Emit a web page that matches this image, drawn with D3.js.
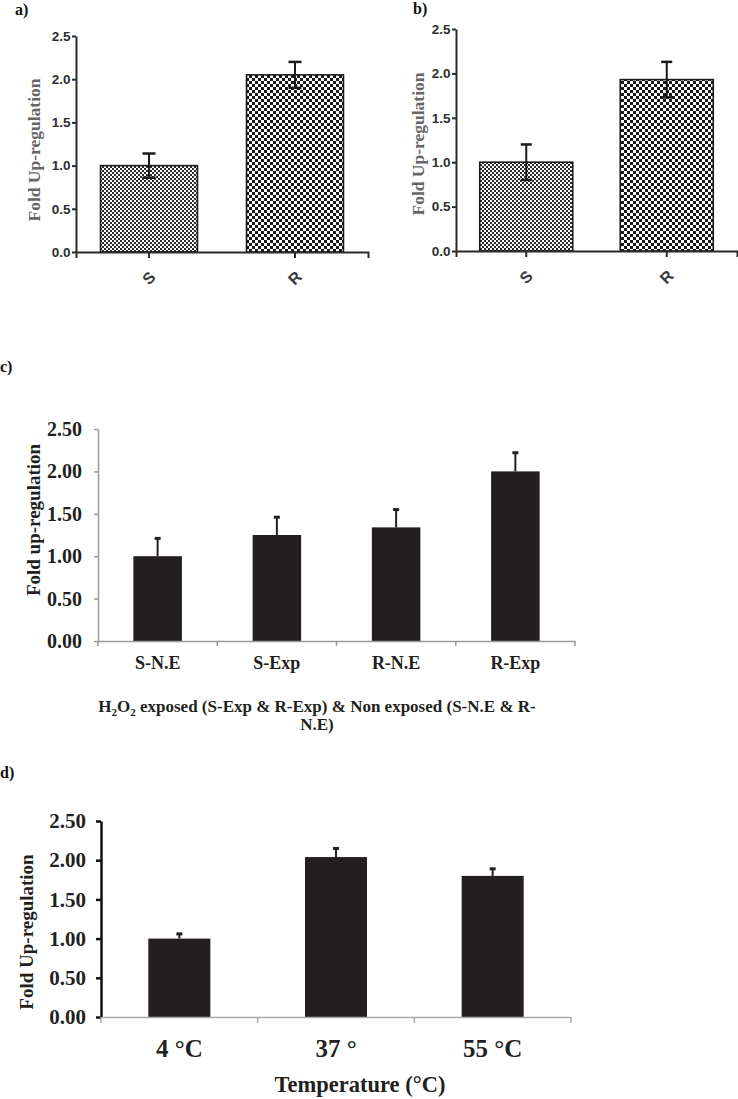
<!DOCTYPE html>
<html><head><meta charset="utf-8">
<script src="https://cdn.jsdelivr.net/npm/d3@7"></script>
<style>body{margin:0;background:#fff}svg{display:block}</style>
</head><body>
<svg id="fig" width="738" height="1099"></svg>
<script>
// ---- Panel a ----
const catsA = ["S", "R"];
const valsA = [1.00, 2.05];
const errA = [0.14, 0.15];
// ---- Panel b ----
const catsB = ["S", "R"];
const valsB = [1.00, 1.93];
const errB = [0.20, 0.20];
// ---- Panel c ----
const catsC = ["S-N.E", "S-Exp", "R-N.E", "R-Exp"];
const valsC = [1.00, 1.25, 1.34, 2.00];
const errC = [0.21, 0.21, 0.21, 0.22];
// ---- Panel d ----
const catsD = ["4 °C", "37 °", "55 °C"];
const valsD = [1.00, 2.04, 1.80];
const errD = [0.06, 0.11, 0.09];
// ---- ticks & titles ----
const ticksAB = [0, 0.5, 1.0, 1.5, 2.0, 2.5];
const ticksCD = [0, 0.5, 1.0, 1.5, 2.0, 2.5];
const yTitleA = "Fold Up-regulation";
const yTitleB = "Fold Up-regulation";
const yTitleC = "Fold up-regulation";
const yTitleD = "Fold Up-regulation";
const xTitleD = "Temperature (°C)";
const panelLabels = ["a)", "b)", "c)", "d)"];

const SERIF = "'Liberation Serif','Times New Roman',serif";
const SANS = "'Liberation Sans',Arial,sans-serif";
const svg = d3.select("#fig");

const defs = svg.append("defs");
function checker(id, cell, col) {
  const p = defs.append("pattern").attr("id", id).attr("patternUnits", "userSpaceOnUse")
    .attr("width", cell * 2).attr("height", cell * 2);
  p.append("rect").attr("width", cell * 2).attr("height", cell * 2).attr("fill", "#fff");
  p.append("rect").attr("width", cell).attr("height", cell).attr("fill", col);
  p.append("rect").attr("x", cell).attr("y", cell).attr("width", cell).attr("height", cell).attr("fill", col);
}
checker("chkFine", 2, "#2a2a2a");
checker("chkCoarse", 3, "#1a1a1a");

function panel(o) {
  const g = svg.append("g");
  const x = d3.scaleBand().domain(o.cats).range([o.x0, o.x1]).paddingInner(o.pad).paddingOuter(o.pad / 2);
  const y = d3.scaleLinear().domain([0, 2.5]).range([o.yBot, o.yTop]);

  // bars
  g.selectAll("rect.bar").data(o.cats).join("rect").attr("class", "bar")
    .attr("x", c => x(c)).attr("width", x.bandwidth())
    .attr("y", (c, i) => y(o.vals[i])).attr("height", (c, i) => y(0) - y(o.vals[i]))
    .attr("fill", (c, i) => o.fills[i])
    .attr("stroke", o.barStroke).attr("stroke-width", o.barStrokeW);

  // error bars
  const eg = g.append("g").attr("stroke", o.errColor);
  o.cats.forEach((c, i) => {
    const cx = x(c) + x.bandwidth() / 2;
    const v = o.vals[i], e = o.errs[i];
    const lo = o.both ? v - e : v;
    eg.append("line").attr("x1", cx).attr("x2", cx).attr("y1", y(lo)).attr("y2", y(v + e))
      .attr("stroke-width", o.errW);
    eg.append("line").attr("x1", cx - o.capW / 2).attr("x2", cx + o.capW / 2)
      .attr("y1", y(v + e)).attr("y2", y(v + e)).attr("stroke-width", o.capT);
    if (o.both) {
      eg.append("line").attr("x1", cx - o.capW / 2).attr("x2", cx + o.capW / 2)
        .attr("y1", y(lo)).attr("y2", y(lo)).attr("stroke-width", o.capT);
    }
  });

  // y axis
  const ya = d3.axisLeft(y).tickValues(o.ticks).tickFormat(d3.format(o.fmt))
    .tickSize(o.yTickLen).tickSizeOuter(0).tickPadding(o.yTickPad);
  const yg = g.append("g").attr("transform", `translate(${o.x0},0)`).call(ya);
  yg.select(".domain").attr("stroke", o.yAxisColor).attr("stroke-width", o.yAxisW);
  yg.selectAll(".tick line").attr("stroke", o.yAxisColor).attr("stroke-width", o.yTickW);
  yg.selectAll(".tick text").attr("font-family", o.tickFont).attr("font-size", o.tickSize)
    .attr("font-weight", "bold").attr("fill", o.tickColor);

  // x axis
  const xa = d3.axisBottom(x).tickSizeOuter(0).tickSize(o.centerTicks ? o.xTickLen : 0);
  const xg = g.append("g").attr("transform", `translate(0,${o.yBot})`).call(xa);
  xg.select(".domain").attr("stroke", o.xAxisColor).attr("stroke-width", o.xAxisW);
  xg.selectAll(".tick line").attr("stroke", o.xAxisColor).attr("stroke-width", o.xAxisW);
  const xt = xg.selectAll(".tick text").attr("font-family", o.xLabFont).attr("font-size", o.xLabSize)
    .attr("font-weight", "bold").attr("fill", o.xLabColor);
  if (o.rotate) {
    xt.attr("y", 0).attr("dy", 0).attr("dominant-baseline", "central").attr("text-anchor", "middle")
      .attr("transform", `translate(0,${o.xLabOff}) rotate(-45)`);
  } else {
    xt.attr("y", o.xLabOff).attr("dy", 0);
  }
  if (!o.centerTicks) {
    const bounds = d3.range(o.cats.length + 1).map(i => o.x0 + i * x.step());
    g.selectAll("line.bt").data(bounds).join("line").attr("class", "bt")
      .attr("x1", d => d).attr("x2", d => d).attr("y1", o.yBot).attr("y2", o.yBot + o.xTickLen)
      .attr("stroke", o.xAxisColor).attr("stroke-width", o.xAxisW);
  }

  // y title
  g.append("text").attr("transform", `translate(${o.yTitleX},${o.yTitleY}) rotate(-90)`)
    .attr("text-anchor", "middle").attr("font-family", SERIF).attr("font-weight", "bold")
    .attr("font-size", o.yTitleSize).attr("fill", o.yTitleColor).text(o.yTitle);

  // panel label
  g.append("text").attr("x", o.labX).attr("y", o.labY).attr("font-family", SERIF)
    .attr("font-weight", "bold").attr("font-size", 16).attr("fill", "#111").text(o.label);
  return {g, x, y};
}

const abCommon = {
  pad: 0.336, fills: ["url(#chkFine)", "url(#chkCoarse)"], barStroke: "#1a1a1a", barStrokeW: 1.6,
  errColor: "#1a1a1a", errW: 2, capT: 2.5, both: true,
  ticks: ticksAB, fmt: ".1f", yTickLen: 4, yTickPad: 1.5, yAxisColor: "#2a2a2a", yAxisW: 2, yTickW: 2,
  tickFont: SANS, tickSize: 13.5, tickColor: "#2e2e2e",
  centerTicks: true, xTickLen: 6, xAxisColor: "#2a2a2a", xAxisW: 2,
  xLabFont: SANS, xLabSize: 16, xLabColor: "#3a3a3a", rotate: true, xLabOff: 26,
  yTitleSize: 17.5, yTitleColor: "#666"
};

panel(Object.assign({}, abCommon, {
  cats: catsA, vals: valsA, errs: errA, x0: 76, x1: 368, yTop: 36, yBot: 252, capW: 13,
  yTitle: yTitleA, yTitleX: 40, yTitleY: 150, label: panelLabels[0], labX: 15, labY: 15
}));
panel(Object.assign({}, abCommon, {
  cats: catsB, vals: valsB, errs: errB, x0: 456, x1: 737, yTop: 29, yBot: 251, capW: 11, pad: 0.338,
  yTitle: yTitleB, yTitleX: 424, yTitleY: 144, label: panelLabels[1], labX: 413, labY: 14
}));

const cdCommon = {
  fills: null, barStroke: "none", barStrokeW: 0, errColor: "#231f20", errW: 2, capT: 3, capW: 6, both: false,
  ticks: ticksCD, fmt: ".2f", tickFont: SERIF, tickColor: "#231f20",
  centerTicks: false, xLabFont: SERIF, xLabColor: "#231f20", rotate: false, yTitleColor: "#231f20"
};

panel(Object.assign({}, cdCommon, {
  cats: catsC, vals: valsC, errs: errC, fills: catsC.map(() => "#231f20"),
  x0: 98, x1: 575, yTop: 429, yBot: 641, pad: 0.593,
  yTickLen: 4, yTickPad: 12, yAxisColor: "#9a9a9a", yAxisW: 1.5, yTickW: 1.5, tickSize: 20,
  xTickLen: 5, xAxisColor: "#9a9a9a", xAxisW: 1.5, xLabSize: 18, xLabOff: 28,
  yTitle: yTitleC, yTitleX: 40, yTitleY: 520, yTitleSize: 19, label: panelLabels[2], labX: 0, labY: 372
}));

// caption of panel c (H2O2 with subscripts)
const cap = svg.append("text").attr("font-family", SERIF).attr("font-weight", "bold")
  .attr("font-size", 17).attr("fill", "#231f20").attr("text-anchor", "middle");
const l1 = cap.append("tspan").attr("x", 317).attr("y", 712);
l1.append("tspan").text("H");
l1.append("tspan").attr("font-size", 11).attr("dy", 4).text("2");
l1.append("tspan").attr("dy", -4).text("O");
l1.append("tspan").attr("font-size", 11).attr("dy", 4).text("2");
l1.append("tspan").attr("dy", -4).text(" exposed (S-Exp & R-Exp) & Non exposed (S-N.E & R-");
cap.append("tspan").attr("x", 317).attr("y", 730).text("N.E)");

panel(Object.assign({}, cdCommon, {
  cats: catsD, vals: valsD, errs: errD, fills: catsD.map(() => "#231f20"),
  x0: 101, x1: 571, yTop: 821, yBot: 1017, pad: 0.604,
  yTickLen: 5, yTickPad: 10, yAxisColor: "#111", yAxisW: 2.5, yTickW: 2.5, tickSize: 21,
  xTickLen: 6, xAxisColor: "#aaaaaa", xAxisW: 1.5, xLabSize: 25, xLabOff: 40,
  yTitle: yTitleD, yTitleX: 33, yTitleY: 932, yTitleSize: 19, label: panelLabels[3], labX: 0, labY: 778
}));
svg.append("text").attr("x", 360).attr("y", 1092).attr("text-anchor", "middle")
  .attr("font-family", SERIF).attr("font-weight", "bold").attr("font-size", 22.5)
  .attr("fill", "#231f20").text(xTitleD);
</script>
</body></html>
